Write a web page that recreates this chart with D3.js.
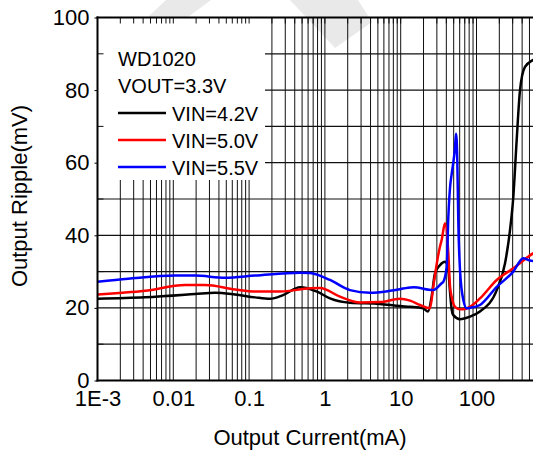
<!DOCTYPE html>
<html>
<head>
<meta charset="utf-8">
<script src="https://cdn.jsdelivr.net/npm/d3@7"></script>
<style>
  body { margin: 0; background: #fff; }
  text { font-family: "Liberation Sans", Arial, sans-serif; }
</style>
</head>
<body>
<svg id="chart" width="533" height="452"></svg>
<script>
// data (current in mA, ripple in mV)
const vin42 = [[0.001,22.5],[0.00423,22.9],[0.0193,23.8],[0.0355,24.2],[0.0652,23.7],[0.12,22.9],[0.189,22.5],
  [0.28,23.5],[0.47,25.7],[0.787,24.5],[1.167,22.6],[2.14,21.4],[5.33,21.1],[9.8,20.5],[13.3,20.3],[19.7,19.9],
  [22.9,19.0],[25.6,23.1],[28.3,29.5],[33,31.8],[38.4,32.7],[40.4,32.3],[42.5,30.5],[44.7,24.5],[47.1,19.5],
  [49.4,18.0],[60.6,16.9],[82,17.6],[111,19.0],[185,24.9],[238,32.3],[277,41.5],[306,50.6],[339,66.3],
  [375,80],[436,86.4],[556,88.3],[689,89]];
const vin50 = [[0.001,23.7],[0.00423,24.7],[0.0143,26.3],[0.0262,26.3],[0.0652,25.1],[0.12,24.5],[0.256,24.5],
  [0.636,25.4],[0.861,25.5],[1.58,23.1],[2.9,21.5],[5.33,21.6],[9.8,22.5],[13.3,22.0],[18,20.8],[24.3,19.9],
  [26.9,25.8],[31,34.1],[33,36.9],[34.7,38.7],[38.4,43.3],[42.5,35],[44.7,26],[47.1,23],[52.1,20.3],
  [61,19.6],[67,19.6],[82,20.3],[111,22.6],[185,27.7],[306,30.9],[556,35.0],[689,36]];
const vin55 = [[0.001,27.2],[0.00253,28.0],[0.0105,28.9],[0.0193,28.9],[0.0481,28.3],[0.12,28.9],[0.47,29.7],
  [0.636,29.6],[1.167,27.7],[2.14,24.9],[3.94,24.2],[7.23,24.7],[13.3,25.6],[14.7,25.7],[26.9,24.9],[34.7,26.8],
  [36.5,27.2],[40.4,31.3],[42.5,45],[44.7,53],[47.1,57],[49.4,60],[52,64],[53.7,68],[55.8,60.7],[57.5,44.2],
  [60.6,30.4],[67,22.2],[74.3,19.9],[82,20.0],[111,20.8],[185,25.8],[306,30],[414,33.7],[482,33.2],
  [556,32.9],[689,32.8]];

const seriesNames = ["VIN=4.2V", "VIN=5.0V", "VIN=5.5V"];
const seriesColors = ["#000000", "#ff0000", "#0000ff"];
const xTickVals = [0.001, 0.01, 0.1, 1, 10, 100];
const xTickLabels = ["1E-3", "0.01", "0.1", "1", "10", "100"];
const yTickVals = [0, 20, 40, 60, 80, 100];

const svg = d3.select("#chart");
const plotLeft = 97.5, plotTop = 17.5, plotBottom = 380.5;

const xScale = d3.scaleLog().domain([0.001, 1000]).range([plotLeft, plotLeft + 6 * 75.8]);
const yScale = d3.scaleLinear().domain([0, 100]).range([plotBottom, plotTop]);

// minor log positions
let minorX = [];
for (let e = -3; e <= 2; e++) {
  for (let k = 1; k <= 9; k++) minorX.push(k * Math.pow(10, e));
}
minorX.push(1000);
const gridY = d3.range(10, 100, 10);

svg.append("clipPath").attr("id", "plot")
  .append("rect").attr("x", plotLeft).attr("y", plotTop).attr("width", 600).attr("height", plotBottom - plotTop);

// faint watermark bands
svg.append("polygon").attr("points", "166,0 211,0 127,62 100,62")
  .style("fill", "#999").style("opacity", 0.22);
svg.append("polygon").attr("points", "290,0 358,0 372,22 335,48")
  .style("fill", "#999").style("opacity", 0.22);

const g = svg.append("g").attr("clip-path", "url(#plot)");

// grid
g.selectAll(".vg").data(minorX).enter().append("line")
  .attr("x1", d => xScale(d)).attr("x2", d => xScale(d))
  .attr("y1", plotTop).attr("y2", plotBottom)
  .style("stroke", "#111").style("stroke-width", 1);
g.selectAll(".hg").data(gridY).enter().append("line")
  .attr("x1", plotLeft).attr("x2", 533)
  .attr("y1", d => yScale(d)).attr("y2", d => yScale(d))
  .style("stroke", "#111").style("stroke-width", 1.2);

// legend box covers the grid
g.append("rect").attr("x", plotLeft).attr("y", plotTop).attr("width", 265 - plotLeft).attr("height", 180 - plotTop)
  .style("fill", "#fff");

// top ticks (inward)
svg.selectAll(".tt").data(minorX.filter(d => d < 1000)).enter().append("line")
  .attr("x1", d => xScale(d)).attr("x2", d => xScale(d))
  .attr("y1", plotTop).attr("y2", plotTop + 6)
  .style("stroke", "#111");
// left minor ticks (inward)
svg.selectAll(".lt").data([10, 30, 50, 70, 90]).enter().append("line")
  .attr("x1", plotLeft).attr("x2", plotLeft + 6)
  .attr("y1", d => yScale(d)).attr("y2", d => yScale(d))
  .style("stroke", "#111");

// curves
const line = d3.line().x(d => xScale(d[0])).y(d => yScale(d[1])).curve(d3.curveMonotoneX);
[vin42, vin50, vin55].forEach((s, i) => {
  g.append("path").datum(s).attr("d", line)
    .style("fill", "none").style("stroke", seriesColors[i]).style("stroke-width", 2.5);
});

// axes
const xAxis = d3.axisBottom(xScale).tickValues(xTickVals)
  .tickFormat((d, i) => xTickLabels[i]).tickSize(0).tickPadding(10);
const xg = svg.append("g").attr("transform", `translate(0, ${plotBottom})`).call(xAxis);
xg.select(".domain").remove();
xg.selectAll("text").style("font-size", "22px").style("fill", "#000");

const yAxis = d3.axisLeft(yScale).tickValues(yTickVals).tickSize(3).tickPadding(5);
const yg = svg.append("g").attr("transform", `translate(${plotLeft}, 0)`).call(yAxis);
yg.select(".domain").remove();
yg.selectAll("line").style("stroke", "#000");
yg.selectAll("text").style("font-size", "22px").style("fill", "#000");

// frame
svg.append("line").attr("x1", plotLeft).attr("x2", plotLeft).attr("y1", plotTop - 1).attr("y2", plotBottom + 1)
  .style("stroke", "#000").style("stroke-width", 2);
svg.append("line").attr("x1", plotLeft - 1).attr("x2", 533).attr("y1", plotTop).attr("y2", plotTop)
  .style("stroke", "#000").style("stroke-width", 2);
svg.append("line").attr("x1", plotLeft - 1).attr("x2", 533).attr("y1", plotBottom).attr("y2", plotBottom)
  .style("stroke", "#000").style("stroke-width", 2);

// legend
svg.append("text").attr("x", 118).attr("y", 66).text("WD1020").style("font-size", "20px");
svg.append("text").attr("x", 118).attr("y", 93).text("VOUT=3.3V").style("font-size", "20px");
seriesNames.forEach((n, i) => {
  const yy = 121 + i * 27;
  svg.append("line").attr("x1", 118).attr("x2", 166).attr("y1", yy - 8).attr("y2", yy - 8)
    .style("stroke", seriesColors[i]).style("stroke-width", 2.5);
  svg.append("text").attr("x", 172).attr("y", yy).text(n).style("font-size", "20px");
});

// axis titles
svg.append("text").attr("x", 310).attr("y", 445).attr("text-anchor", "middle")
  .text("Output Current(mA)").style("font-size", "22px");
svg.append("text").attr("transform", "rotate(-90)").attr("x", -196).attr("y", 27)
  .attr("text-anchor", "middle").text("Output Ripple(mV)").style("font-size", "22px");
</script>
</body>
</html>
